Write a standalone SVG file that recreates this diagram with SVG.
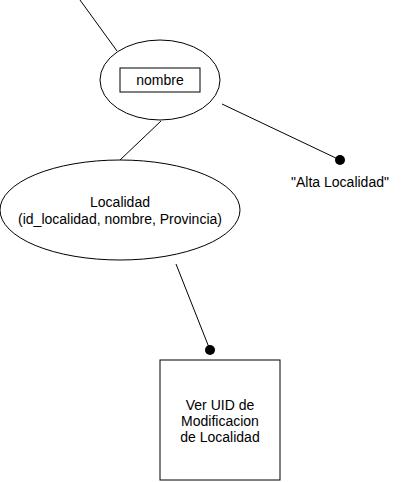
<svg xmlns="http://www.w3.org/2000/svg" width="402" height="482" viewBox="0 0 402 482">
<style>
.s{fill:#fff;stroke:#000;stroke-width:1}
.l{stroke:#000;stroke-width:1;fill:none}
.d{fill:#000}
text{font-family:"Liberation Sans",Arial,sans-serif;font-size:14px;fill:#000;text-anchor:middle}
</style>
<rect width="402" height="482" fill="#fff"/>
<g id="connectors">
<path class="l" d="M80 0 L117 51"/>
<path class="l" d="M161 121 L120 160"/>
<path class="l" d="M222 104 L340 160"/>
<circle class="d" cx="340" cy="160" r="5"/>
<path class="l" d="M176 264 L210 350"/>
<circle class="d" cx="210" cy="350" r="5"/>
</g>
<g id="nombre">
<ellipse class="s" cx="160" cy="80" rx="60" ry="40"/>
<rect class="s" x="120" y="68" width="80" height="24"/>
<text x="160" y="85">nombre</text>
</g>
<g id="alta">
<text x="340" y="187">"Alta Localidad"</text>
</g>
<g id="localidad">
<ellipse class="s" cx="120" cy="210" rx="120" ry="50"/>
<text x="120" y="207">Localidad</text>
<text x="120" y="224">(id_localidad, nombre, Provincia)</text>
</g>
<g id="ver">
<rect class="s" x="160" y="360" width="120" height="120"/>
<text x="220" y="410">Ver UID de</text>
<text x="220" y="426">Modificacion</text>
<text x="220" y="442">de Localidad</text>
</g>
</svg>
